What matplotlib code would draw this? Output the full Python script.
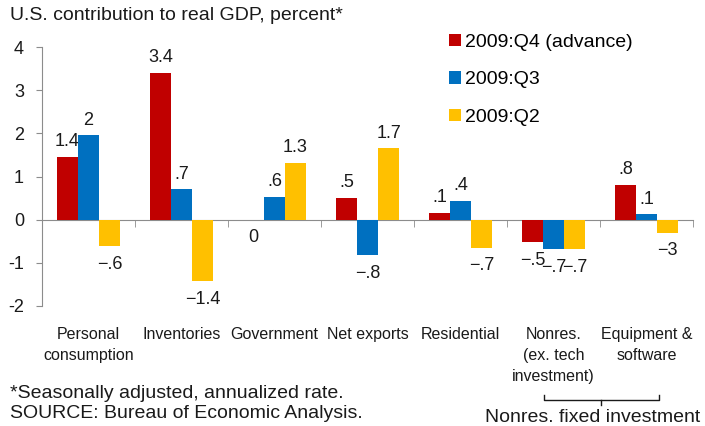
import matplotlib
matplotlib.use("Agg")
import matplotlib.pyplot as plt
import numpy as np
from matplotlib.transforms import blended_transform_factory
from matplotlib.lines import Line2D

plt.rcParams["font.family"] = ["Liberation Sans", "DejaVu Sans"]
plt.rcParams["axes.unicode_minus"] = False

categories = ["Personal\nconsumption", "Inventories", "Government", "Net exports",
              "Residential", "Nonres.\n(ex. tech\ninvestment)", "Equipment &\nsoftware"]
series_names = ["2009:Q4 (advance)", "2009:Q3", "2009:Q2"]
q4_values = [1.45, 3.4, 0.0, 0.5, 0.15, -0.52, 0.8]
q3_values = [1.95, 0.7, 0.52, -0.82, 0.43, -0.68, 0.12]
q2_values = [-0.62, -1.43, 1.32, 1.65, -0.65, -0.68, -0.3]
q4_labels = ["1.4", "3.4", "0", ".5", ".1", "\u2212.5", ".8"]
q3_labels = ["2", ".7", ".6", "\u2212.8", ".4", "\u2212.7", ".1"]
q2_labels = ["\u2212.6", "\u22121.4", "1.3", "1.7", "\u2212.7", "\u2212.7", "\u22123"]
y_ticks = [-2, -1, 0, 1, 2, 3, 4]

COLOURS = ["#C00000", "#0070C0", "#FFC000"]
GREY = "#8C8C8C"
INK = "#1a1a1a"

fig = plt.figure(figsize=(7.05, 4.26), dpi=100)
ax = fig.add_axes([42 / 705, 1 - 306 / 426, (693 - 42) / 705, (306 - 47) / 426])

x = np.arange(len(categories))
w = 0.226
series = [q4_values, q3_values, q2_values]
labels = [q4_labels, q3_labels, q2_labels]
bars = []
for i, (vals, labs) in enumerate(zip(series, labels)):
    xs = x + (i - 1) * w
    b = ax.bar(xs, vals, width=w, color=COLOURS[i], label=series_names[i], zorder=3)
    bars.append(b)
    for xi, v, lab in zip(xs, vals, labs):
        off = 11 if v > 0 else -13
        ax.annotate(lab, (xi, v), xytext=(0, off), textcoords="offset points",
                    ha="center", va="center", fontsize=13, color=INK)

ax.set_xlim(-0.5, 6.5)
ax.set_ylim(-2, 4)
ax.set_yticks(y_ticks)
ax.set_yticklabels([str(t) for t in y_ticks], fontsize=13)

for s in ["top", "right"]:
    ax.spines[s].set_visible(False)
ax.spines["left"].set_color(GREY)
ax.spines["bottom"].set_position(("data", 0))
ax.spines["bottom"].set_color(GREY)
ax.set_xticks([])
ax.set_xticks(np.arange(-0.5, 7.0, 1.0), minor=True)
ax.tick_params(axis="x", which="minor", length=5, color=GREY, direction="out")
ax.tick_params(axis="y", length=4, color=GREY, pad=9, labelcolor=INK)

# category labels under the plot
tr = blended_transform_factory(ax.transData, fig.transFigure)
for xi, cat in zip(x, categories):
    ax.text(xi, 1 - 327 / 426, cat, transform=tr, ha="center", va="top",
            fontsize=11.5, linespacing=1.5, color=INK)

fig.text(10 / 705, 1 - 16 / 426, "U.S. contribution to real GDP, percent*",
         fontsize=14, va="center", ha="left", color=INK)

ax.legend(handles=bars, loc="upper left", bbox_to_anchor=(449 / 705, 1 - 34 / 426),
          bbox_transform=fig.transFigure, frameon=False, fontsize=14,
          handlelength=0.6, handleheight=0.6, handletextpad=0.2, labelspacing=1.05,
          borderpad=0, borderaxespad=0)

fig.text(10 / 705, 1 - 393 / 426, "*Seasonally adjusted, annualized rate.",
         fontsize=14, va="center", ha="left", color=INK)
fig.text(10 / 705, 1 - 413 / 426, "SOURCE: Bureau of Economic Analysis.",
         fontsize=14, va="center", ha="left", color=INK)

# bracket for nonres. fixed investment
def fx(px):
    return px / 705

def fy(py):
    return 1 - py / 426

for xs_, ys_ in [([544, 544, 659, 659], [395, 400, 400, 395]), ([601, 601], [400, 405])]:
    fig.add_artist(Line2D([fx(v) for v in xs_], [fy(v) for v in ys_], color=INK, lw=1))
fig.text(fx(593), fy(417), "Nonres. fixed investment", fontsize=14,
         ha="center", va="center", color=INK)

fig.savefig("out.png", dpi=100)
